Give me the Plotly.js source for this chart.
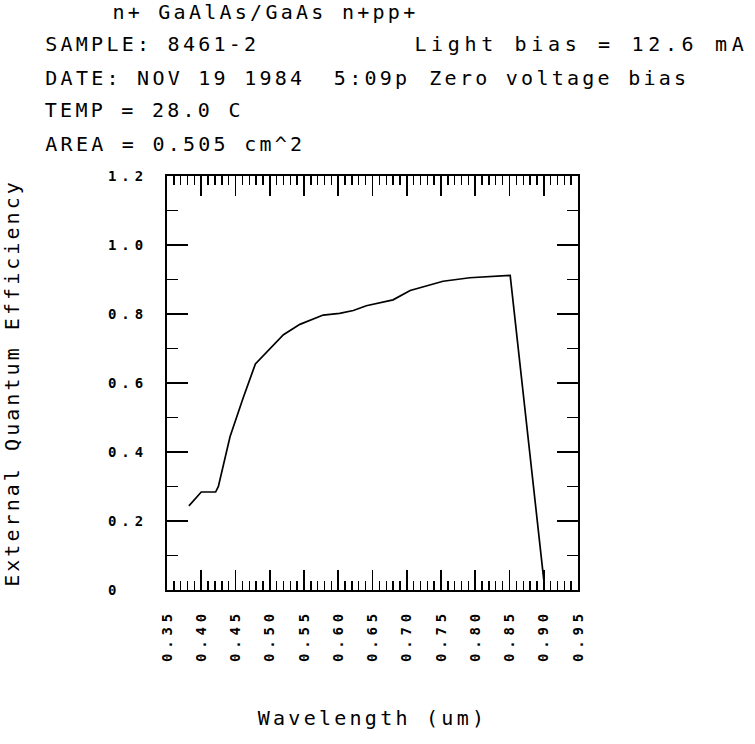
<!DOCTYPE html>
<html>
<head>
<meta charset="utf-8">
<script src="https://cdn.plot.ly/plotly-3.0.1.min.js"></script>
<style>
  html, body { margin: 0; padding: 0; background: #fff; }
  #chart { width: 755px; height: 744px; }
  .js-plotly-plot .xtick text, .js-plotly-plot .ytick text { letter-spacing: 4.9px; }
  .js-plotly-plot .annotation text { letter-spacing: 3.26px; }
  .js-plotly-plot .g-ytitle text { letter-spacing: 3.06px; }
  .js-plotly-plot .g-xtitle text { letter-spacing: 3.26px; }
  .js-plotly-plot .annotation[data-index="2"] text { letter-spacing: 4.66px; }
</style>
</head>
<body>
<div id="chart"></div>
<script>
// Data
const wavelength = [0.382, 0.400, 0.421, 0.425, 0.442, 0.461, 0.479, 0.500, 0.520, 0.544, 0.578, 0.602, 0.622, 0.641, 0.680, 0.705, 0.715, 0.753, 0.792, 0.851, 0.900];
const efficiency = [0.244, 0.284, 0.284, 0.300, 0.444, 0.556, 0.655, 0.700, 0.740, 0.770, 0.797, 0.802, 0.810, 0.824, 0.841, 0.868, 0.874, 0.895, 0.905, 0.912, 0.030];

const xTickVals = [0.35, 0.40, 0.45, 0.50, 0.55, 0.60, 0.65, 0.70, 0.75, 0.80, 0.85, 0.90, 0.95];
const xTickText = ['0.35', '0.40', '0.45', '0.50', '0.55', '0.60', '0.65', '0.70', '0.75', '0.80', '0.85', '0.90', '0.95'];
const yTickVals = [0, 0.2, 0.4, 0.6, 0.8, 1.0, 1.2];
const yTickText = ['0\u00a0\u00a0', '0.2', '0.4', '0.6', '0.8', '1.0', '1.2'];

const headerTexts = ['n+ GaAlAs/GaAs n+pp+', 'SAMPLE: 8461-2', 'Light bias = 12.6 mA', 'DATE: NOV 19 1984', '5:09p', 'Zero voltage bias', 'TEMP = 28.0 C', 'AREA = 0.505 cm^2'];
const headerPx = [[110, 12], [43, 44], [412, 44], [43, 78], [332, 78], [427, 78], [43, 110], [43, 144]];
const headerSpacing = [3.26, 3.26, 4.66, 3.26, 3.26, 3.26, 3.26, 3.26];

const mono = 'DejaVu Sans Mono, Liberation Mono, monospace';
const L = 167, T = 176, W = 411, H = 414;

// Plotly centres annotation text on a box measured without CSS letter-spacing,
// so shift by half of the extra width to keep the left edge in place.
const annotations = headerTexts.map((t, i) => ({
  text: t,
  xref: 'paper', yref: 'paper',
  x: (headerPx[i][0] + t.length * headerSpacing[i] / 2 - L) / W,
  y: (T + H - headerPx[i][1]) / H,
  xanchor: 'left', yanchor: 'middle',
  showarrow: false,
  font: { family: mono, size: 20, color: '#000' }
}));

const trace = {
  x: wavelength, y: efficiency,
  type: 'scatter', mode: 'lines',
  line: { color: '#000', width: 1.7 },
  hoverinfo: 'skip'
};

const layout = {
  width: 755, height: 744,
  margin: { l: L, r: 755 - L - W, t: T, b: 744 - T - H, pad: 0 },
  paper_bgcolor: '#fff', plot_bgcolor: '#fff',
  showlegend: false,
  font: { family: mono, color: '#000' },
  xaxis: {
    range: [0.35, 0.95], autorange: false,
    tickmode: 'array', tickvals: xTickVals, ticktext: xTickText,
    tickangle: -90,
    ticks: 'inside', ticklen: 20, tickwidth: 1.7, tickcolor: '#000',
    minor: { dtick: 0.01, tick0: 0.35, ticks: 'inside', ticklen: 9, tickwidth: 1.4, tickcolor: '#000', showgrid: false },
    showline: true, linewidth: 2.2, linecolor: '#000', mirror: 'ticks',
    showgrid: false, zeroline: false,
    tickfont: { family: mono, size: 14, color: '#000', weight: 'bold' },
    ticklabelstandoff: 11,
    title: { text: 'Wavelength (um)', font: { family: mono, size: 20, color: '#000' }, standoff: 70 }
  },
  yaxis: {
    range: [0, 1.2], autorange: false,
    tickmode: 'array', tickvals: yTickVals, ticktext: yTickText,
    ticks: 'inside', ticklen: 21, tickwidth: 1.7, tickcolor: '#000',
    minor: { dtick: 0.1, tick0: 0, ticks: 'inside', ticklen: 11, tickwidth: 1.5, tickcolor: '#000', showgrid: false },
    showline: true, linewidth: 2.2, linecolor: '#000', mirror: 'ticks',
    showgrid: false, zeroline: false,
    tickfont: { family: mono, size: 14, color: '#000', weight: 'bold' },
    ticklabelstandoff: 14,
    title: { text: 'External Quantum Efficiency', font: { family: mono, size: 20, color: '#000' }, standoff: 98 }
  },
  annotations: annotations
};

Plotly.newPlot('chart', [trace], layout, { staticPlot: true, displayModeBar: false });
</script>
</body>
</html>
